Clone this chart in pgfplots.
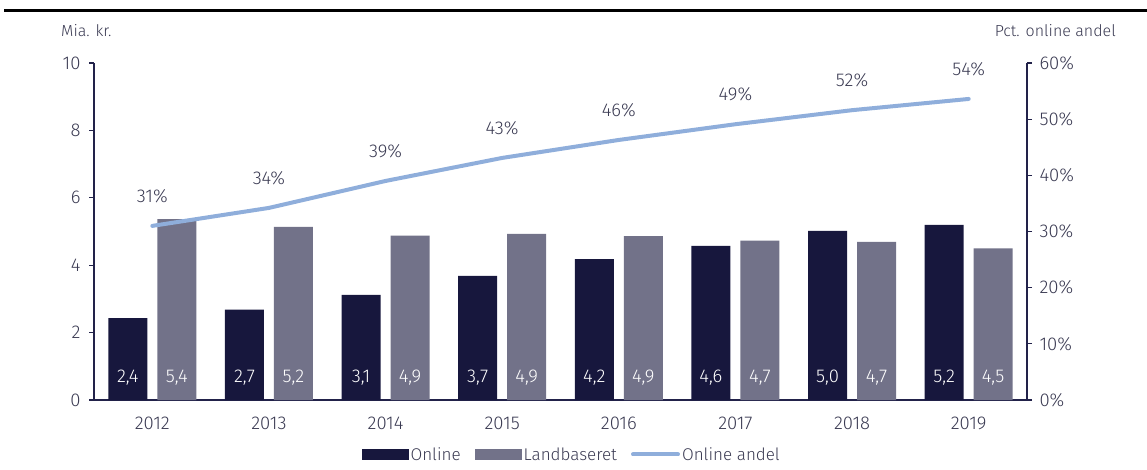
\documentclass[border=0pt]{standalone}
\usepackage{pgfplots}
\pgfplotsset{compat=1.18}
\usepackage{fontspec}
\setmainfont{Fira Sans}[UprightFont=* Light]
\definecolor{navy}{HTML}{17173D}
\definecolor{landc}{HTML}{727289}
\definecolor{linec}{HTML}{8FAEDB}
\definecolor{txt}{HTML}{3A3A52}
\definecolor{axc}{HTML}{22224A}
\newcommand{\fs}{\fontsize{16}{19}\selectfont}
\newcommand{\fl}{\fontsize{17}{20}\selectfont}
\newcommand{\fn}{\fontsize{18.5}{21}\selectfont}
\pgfplotsset{
  barlegend/.style={legend image code/.code={\path[##1] (0pt,-5pt) rectangle (47pt,6pt);}},
  linelegend/.style={legend image code/.code={\draw[##1] (1pt,0.5pt) -- (46pt,0.5pt);}},
}
\begin{document}
\begin{tikzpicture}
\useasboundingbox (0pt,0pt) rectangle (1147pt,469pt);
\fill[black] (4pt,456.5pt) rectangle (1147pt,459.5pt);
\node[anchor=west, text=txt, font=\fs, inner sep=0pt] at (61pt,438pt) {Mia. kr.};
\node[anchor=east, text=txt, font=\fs, inner sep=0pt] at (1116pt,438pt) {Pct. online andel};
\begin{axis}[
  at={(94pt,69pt)}, anchor=south west, scale only axis,
  width=933pt, height=337pt,
  xmin=-0.5, xmax=7.5, ymin=0, ymax=10,
  axis x line*=bottom, axis y line*=left,
  axis line style={axc, line width=1.4pt},
  xtick={0,...,7}, xticklabels={2012,2013,2014,2015,2016,2017,2018,2019},
  x tick style={draw=none},
  ytick={0,2,...,10},
  tick align=outside, major tick length=5pt,
  y tick style={axc, line width=1.2pt},
  /pgf/number format/assume math mode=true,
  tick label style={text=txt, font=\fn},
  yticklabel style={xshift=-5pt},
  xticklabel style={yshift=-8pt},
  legend style={at={(0.512,-0.163)}, anchor=center, draw=none, fill=none,
    legend columns=3, font=\fl, text=txt,
    nodes={inner xsep=2pt},
    /tikz/every even column/.append style={column sep=12pt},
    inner sep=0pt},
]
\addplot[ybar, bar width=39pt, bar shift=-24.5pt, fill=navy, draw=none, barlegend]
  coordinates {(0,2.43) (1,2.68) (2,3.12) (3,3.68) (4,4.18) (5,4.57) (6,5.02) (7,5.20)};
\addlegendentry{Online}
\addplot[ybar, bar width=39pt, bar shift=24.5pt, fill=landc, draw=none, barlegend]
  coordinates {(0,5.37) (1,5.14) (2,4.88) (3,4.93) (4,4.86) (5,4.73) (6,4.69) (7,4.50)};
\addlegendentry{Landbaseret}
\addlegendimage{linec, line width=4pt, line cap=round, linelegend}
\addlegendentry{Online andel}
\addplot[draw=none, nodes near coords, point meta=explicit symbolic,
  every node near coord/.append style={text=white, anchor=center, font=\fn}]
  coordinates {(-0.21,0.65)[2,4] (0.79,0.65)[2,7] (1.79,0.65)[3,1] (2.79,0.65)[3,7] (3.79,0.65)[4,2] (4.79,0.65)[4,6] (5.79,0.65)[5,0] (6.79,0.65)[5,2]};
\addplot[draw=none, nodes near coords, point meta=explicit symbolic,
  every node near coord/.append style={text=white, anchor=center, font=\fn}]
  coordinates {(0.21,0.65)[5,4] (1.21,0.65)[5,2] (2.21,0.65)[4,9] (3.21,0.65)[4,9] (4.21,0.65)[4,9] (5.21,0.65)[4,7] (6.21,0.65)[4,7] (7.21,0.65)[4,5]};
\end{axis}
\begin{axis}[
  at={(94pt,69pt)}, anchor=south west, scale only axis,
  width=933pt, height=337pt,
  xmin=-0.5, xmax=7.5, ymin=0, ymax=60,
  axis x line=none, axis y line*=right,
  axis line style={axc, line width=1.4pt},
  ytick={0,10,...,60},
  yticklabel={\pgfmathprintnumber{\tick}\%},
  tick align=outside, major tick length=5pt,
  y tick style={axc, line width=1.2pt},
  /pgf/number format/assume math mode=true,
  tick label style={text=txt, font=\fn},
  yticklabel style={xshift=4pt},
]
\addplot[linec, line width=4pt, line cap=round, line join=round, nodes near coords, point meta=explicit symbolic,
  every node near coord/.append style={text=txt, anchor=center, yshift=30pt, font=\fn}]
  coordinates {(0,31.0)[31\%] (1,34.2)[34\%] (2,39.0)[39\%] (3,43.1)[43\%] (4,46.3)[46\%] (5,49.1)[49\%] (6,51.6)[52\%] (7,53.6)[54\%]};
\end{axis}
\end{tikzpicture}
\end{document}
